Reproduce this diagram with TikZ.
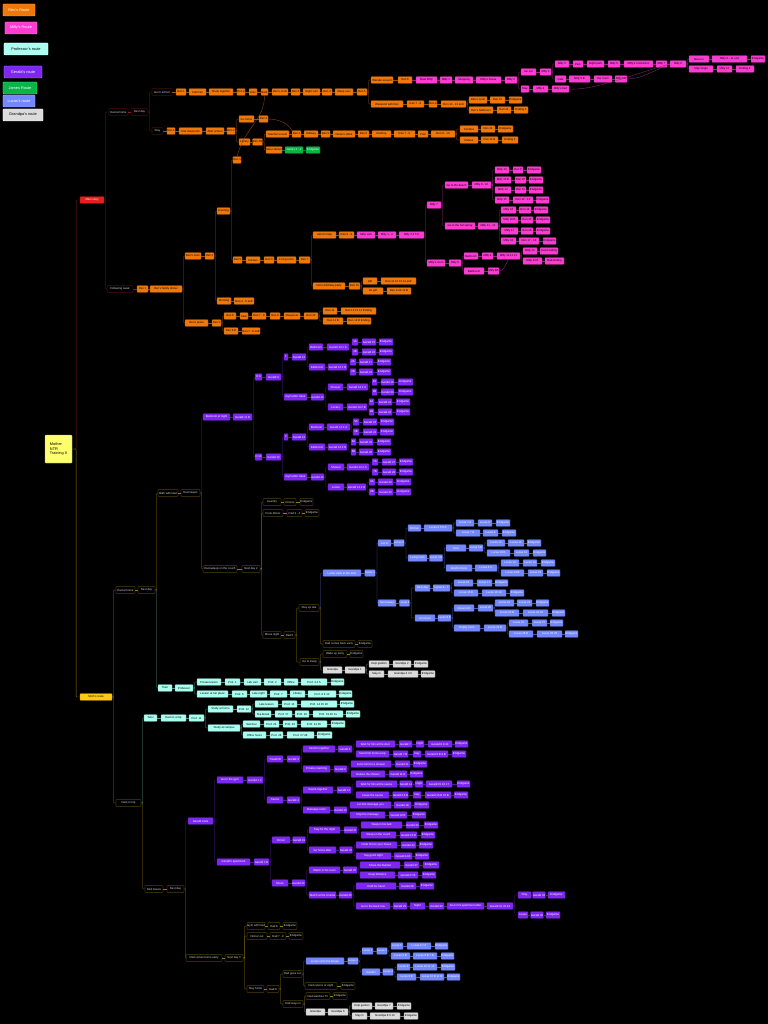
\documentclass[tikz,border=0pt]{standalone}
\usepackage{fontspec}
\setmainfont{Liberation Sans}
\usetikzlibrary{calc}
\definecolor{renorange}{RGB}{240,120,10}
\definecolor{millypink}{RGB}{255,60,210}
\definecolor{profcyan}{RGB}{170,255,240}
\definecolor{geraldpurple}{RGB}{125,40,240}
\definecolor{jamesgreen}{RGB}{10,180,70}
\definecolor{lucasblue}{RGB}{115,135,255}
\definecolor{grandgray}{RGB}{220,220,220}
\definecolor{mainred}{RGB}{230,30,30}
\definecolor{rootyellow}{RGB}{255,255,110}
\definecolor{goldnode}{RGB}{255,200,20}
\definecolor{darkred}{RGB}{130,30,30}
\definecolor{darkgold}{RGB}{150,120,20}
\definecolor{lnrenc}{RGB}{150,80,15}
\definecolor{lnpinkc}{RGB}{150,40,130}
\definecolor{lngerc}{RGB}{80,30,150}
\definecolor{lnlucc}{RGB}{80,90,170}
\definecolor{lnprofc}{RGB}{90,150,140}
\definecolor{lngrayc}{RGB}{130,130,130}
\definecolor{lngreenc}{RGB}{20,120,50}

% one row of boxes: name, y, box style, line style, list of left/right/text
\newcommand{\mmrow}[5]{%
  \foreach \mml/\mmr/\mmt [count=\mmi, remember=\mmi as \mmj (initially 0)] in {#5}{%
    \node[#3, minimum width={(\mmr-\mml)*0.5mm}] (#1-\mmi) at ({(\mml+\mmr)/2},#2) {\mmt};
    \ifnum\mmi>1 \draw[#4] (#1-\mmj.east) -- (#1-\mmi.west);\fi
  }%
}
% parent to children, over a trunk
\newcommand{\mmfork}[3]{%
  \foreach \mmc in {#3}{\draw[#1] (#2.east) -- ++(0.8mm,0) |- (\mmc.west);}%
}
\newcommand{\mmlink}[3]{\draw[#1] (#2.east) -- (#3.west);}

\begin{document}
\begin{tikzpicture}[x=0.5mm, y=-0.5mm,
  mm/.style={rounded corners=0.8pt, minimum height=3.3mm, inner sep=0.4pt, font=\fontsize{4}{4.4}\selectfont, line width=0.35pt},
  renbox/.style={mm, fill=renorange, draw=renorange!75!black, text=black},
  millybox/.style={mm, fill=millypink, draw=millypink!75!black, text=black},
  profbox/.style={mm, fill=profcyan, draw=profcyan!70!black, text=black},
  gerbox/.style={mm, fill=geraldpurple, draw=geraldpurple!75!black, text=white},
  jamesbox/.style={mm, fill=jamesgreen, draw=jamesgreen!75!black, text=white},
  lucbox/.style={mm, fill=lucasblue, draw=lucasblue!75!black, text=white},
  grandbox/.style={mm, fill=grandgray, draw=grandgray!70!black, text=black},
  darkredbox/.style={mm, fill=black, draw=darkred, text=white!85!black},
  darkgoldbox/.style={mm, fill=black, draw=darkgold, text=white!85!black},
  mainredbox/.style={mm, fill=mainred, draw=mainred!75!black, text=white},
  goldbox/.style={mm, fill=goldnode, draw=goldnode!75!black, text=black},
  legbox/.style={rounded corners=1pt, minimum height=6mm, inner sep=1pt, font=\fontsize{5.5}{6}\selectfont, line width=0.6pt},
  link/.style={line width=0.45pt, rounded corners=1pt},
  lred/.style={link, draw=darkred},
  lgold/.style={link, draw=darkgold},
  lren/.style={link, draw=lnrenc},
  lpink/.style={link, draw=lnpinkc},
  lger/.style={link, draw=lngerc},
  lluc/.style={link, draw=lnlucc},
  lprof/.style={link, draw=lnprofc},
  lgray/.style={link, draw=lngrayc},
  lgreen/.style={link, draw=lngreenc}
]
\fill[black] (0,0) rectangle (768,1024);
\useasboundingbox (0,0) rectangle (768,1024);

% legend
\node[legbox, fill=renorange, draw=renorange!60!white, text=white, minimum width=16mm] (legren) at (19,10) {Ren's Route};
\node[legbox, fill=millypink, draw=millypink!60!white, text=white, minimum width=16mm] (legmilly) at (21,28) {Milly's Route};
\node[legbox, fill=profcyan, draw=white, text=black, minimum width=22mm] (legprof) at (26,49) {Professor's route};
\node[legbox, fill=geraldpurple, draw=geraldpurple!60!white, text=white, minimum width=19mm] (legger) at (23,72) {Gerald's route};
\node[legbox, fill=jamesgreen, draw=jamesgreen!60!white, text=white, minimum width=17mm] (legjames) at (20,88) {James Route};
\node[legbox, fill=lucasblue, draw=lucasblue!60!white, text=white, minimum width=16mm] (legluc) at (19,101) {Lucas's route};
\node[legbox, fill=grandgray, draw=white, text=black, minimum width=20mm] (leggrand) at (23,115) {Grandpa's route};

% root
\node[rounded corners=1pt, fill=rootyellow, draw=rootyellow!70!black, minimum width=13.5mm, minimum height=14mm, align=left, font=\fontsize{5.5}{6.5}\selectfont, inner sep=1.5pt] (root) at (58.5,449) {Mother\\NTR\\Training II};

% ---- Ren
\mmrow{ren}{200}{mainredbox}{lred}{80/104/Main story}
\mmrow{a1}{112}{darkredbox}{lred}{109/128/Dad at home, 131/148/Next day}
\mmrow{b1}{92}{darkredbox}{lred}{152/172/Go to school}
\mmrow{b2}{131}{darkredbox}{lred}{152/163/Stay}
\mmrow{c1}{92}{renbox}{lren}{176/186/Ren 1, 189/206/Call Ren, 209/233/Study together, 237/245/Ren 2, 249/257/Kiss, 261/268/Bath, 272/288/Ren's room, 291/300/Ren 3, 303/320/Night visit, 322/332/Ren 4, 335/353/Sleep over, 357/367/Ren 5}
\mmrow{d1}{80}{renbox}{lren}{371/393/Wander around, 398/412/Ren 6}
\mmrow{d1p}{80}{millybox}{lpink}{416/437/Meet Milly, 440/452/Milly 1, 455/473/Shopping, 476/501/Milly's house, 505/517/Milly 2}
\mmrow{e1}{72}{millybox}{lpink}{521/536/Go out, 540/551/Milly 3}
\mmrow{e2}{89}{millybox}{lpink}{521/529/Stay, 533/548/Milly 4, 552/569/Milly's bed}
\mmrow{f1}{64}{millybox}{lpink}{555/569/Milly 5, 573/583/Park, 587/604/Night park, 608/620/Milly 6, 624/653/Milly's confession, 656/667/Milly 7, 670/686/Milly 8}
\mmrow{f2}{79}{millybox}{lpink}{555/566/Cafe, 569/590/Milly 5 B, 594/612/Her room, 615/627/Milly 6B}
\mmrow{g1}{59}{millybox}{lpink}{689/709/Move in, 712/747/Milly 9 - 11 end, 751/765/Endgame}
\mmrow{g2}{69}{millybox}{lpink}{689/713/Stay single, 717/732/Milly 12, 736/754/Ending 2}
\mmrow{d2}{104}{renbox}{lren}{371/403/Weekend with Ren, 407/424/Ren 7 - 8, 429/437/Ren 9, 441/466/Ren 10 - 12 end}
\mmrow{h1}{100}{renbox}{lren}{469/487/Ren's room, 490/505/Ren 13, 509/522/Endgame}
\mmrow{h2}{110}{renbox}{lren}{469/493/Ren's bathroom, 497/511/Ren 14, 514/528/Ending 2}
\mmrow{i1}{131}{renbox}{lren}{167/175/Ren 1, 179/202/Visit classroom, 206/224/After school, 227/235/Ren 2}
\mmrow{j1}{119}{renbox}{lren}{239/254/Go home, 259/268/Ren 3}
\mmrow{j2}{142}{renbox}{lren}{239/250/Library, 253/262/Ren 3B}
\mmrow{k1}{134}{renbox}{lren}{266/289/Teacher's room, 292/301/Ren 4, 304/318/Hallway, 321/330/Ren 5, 333/355/Nurse's office, 358/369/Ren 6, 372/391/Rooftop, 394/415/Ren 7 - 8, 418/428/Pool, 431/455/Ren 9 - 10}
\mmrow{l1}{129}{renbox}{lren}{460/478/Confess, 481/495/Ren 11, 498/513/Endgame}
\mmrow{l2}{140}{renbox}{lren}{460/478/Refuse, 481/498/Ren 11 B, 502/518/Ending 2}
\mmrow{k2}{150}{renbox}{lren}{266/282/Meet James}
\mmrow{k2g}{150}{jamesbox}{lgreen}{285/303/James 1 - 2, 306/320/Endgame}
\mmrow{m0}{160}{renbox}{lren}{233/241/Ren 4}
\mmrow{a2}{289}{darkredbox}{lred}{107/133/Following week}
\mmrow{a2o}{289}{renbox}{lren}{137/148/Ren 1, 150/182/Ren's family dinner}
\mmrow{n1}{256}{renbox}{lren}{185/201/Ren's mom, 205/214/Ren 2}
\mmrow{n2}{323}{renbox}{lren}{185/208/Ren's place, 212/221/Ren 3}
\mmrow{o1}{211}{renbox}{lren}{217/230/Evening}
\mmrow{o2}{301}{renbox}{lren}{217/231/Morning, 234/254/Ren 4 - 5 end}
\mmrow{p1}{260}{renbox}{lren}{233/242/Ren 5, 246/260/Kitchen, 264/274/Ren 6, 277/296/Living room, 299/310/Ren 7}
\mmrow{q1}{235}{renbox}{lren}{313/336/Ask for help, 339/354/Ren 8 - 9}
\mmrow{q1p}{235}{millybox}{lpink}{357/375/Milly visit, 378/396/Milly 1 - 2, 399/424/Milly 3 4 5 6}
\mmrow{r1}{205}{millybox}{lpink}{427/441/Milly 7}
\mmrow{r2}{263}{millybox}{lpink}{427/445/Milly's room, 449/461/Milly 8}
\mmrow{s1}{185}{millybox}{lpink}{445/468/Go to the beach, 472/491/Milly 9 - 10}
\mmrow{s2}{226}{millybox}{lpink}{445/475/Go to the hot spring, 478/498/Milly 11 - 12}
\mmrow{t1}{170}{millybox}{lpink}{495/509/Milly 13, 513/523/Ren 9, 527/541/Endgame}
\mmrow{t2}{180}{millybox}{lpink}{495/511/Milly 13 B, 515/526/Ren 10, 529/543/Endgame}
\mmrow{t3}{190}{millybox}{lpink}{495/511/Milly 14, 515/526/Ren 11, 529/543/Endgame}
\mmrow{t4}{200}{millybox}{lpink}{495/509/Milly 15, 513/533/Ren 12 - 13, 536/549/Endgame}
\mmrow{u1}{210}{millybox}{lpink}{501/516/Milly 16, 519/531/Ren 14, 534/548/Endgame}
\mmrow{u2}{220}{millybox}{lpink}{501/518/Milly 16 B, 521/533/Ren 15, 536/550/Endgame}
\mmrow{u3}{231}{millybox}{lpink}{501/518/Milly 17, 521/533/Ren 16, 536/550/Endgame}
\mmrow{u4}{241}{millybox}{lpink}{501/516/Milly 18, 519/539/Ren 17 - 18, 543/556/Endgame}
\mmrow{v1}{256}{millybox}{lpink}{464/478/Bedroom, 482/493/Milly 9, 497/520/Milly 10 11 12}
\mmrow{v2}{271}{millybox}{lpink}{464/484/Bathroom, 488/499/Milly 9B}
\mmrow{w1}{251}{millybox}{lpink}{523/537/Milly 13, 540/558/Good ending}
\mmrow{w2}{261}{millybox}{lpink}{523/542/Milly 13 B, 545/564/Bad ending}
\mmrow{q2}{286}{renbox}{lren}{313/345/Ren's birthday party, 349/360/Ren 10}
\mmrow{x1}{281}{renbox}{lren}{363/377/Gift, 381/416/Ren 11 12 13 14 end}
\mmrow{x2}{291}{renbox}{lren}{363/383/No gift, 387/411/Ren 11 B 12 B}
\mmrow{y1}{316}{renbox}{lren}{224/236/Ren 6, 240/248/Park, 252/266/Ren 7 - 8, 270/280/Ren 9, 284/300/Sleepover, 304/318/Ren 10}
\mmrow{y2}{331}{renbox}{lren}{224/238/Ren 6 B, 242/260/Ren 7 - 8 end}
\mmrow{z1}{311}{renbox}{lren}{323/337/Ren 11, 341/376/Ren 12 13 14 Ending}
\mmrow{z2}{321}{renbox}{lren}{323/343/Ren 11 B, 347/371/Ren 12 B Ending}

\draw[lred] (root.east) -- ++(2mm,0) |- (ren-1.west);
\mmfork{lred}{ren-1}{a1-1,a2-1}
\mmfork{lred}{a1-2}{b1-1,b2-1}
\mmlink{lren}{b1-1}{c1-1}
\mmlink{lren}{b2-1}{i1-1}
\mmfork{lren}{c1-12}{d1-1,d2-1}
\mmlink{lpink}{d1-2}{d1p-1}
\mmfork{lpink}{d1p-5}{e1-1,e2-1}
\mmfork{lpink}{e1-2}{f1-1,f2-1}
\mmfork{lpink}{f1-7}{g1-1,g2-1}
\draw[lpink] (e2-3.east) .. controls +(25,2) and +(-30,8) .. (f1-7.west);
\draw[lpink] (f2-4.east) .. controls +(15,0) and +(-15,6) .. (f1-7.west);
\mmfork{lren}{d2-4}{h1-1,h2-1}
\mmfork{lren}{i1-4}{j1-1,j2-1}
\mmfork{lren}{j2-2}{k1-1,k2-1}
\mmfork{lren}{k1-10}{l1-1,l2-1}
\mmlink{lgreen}{k2-1}{k2g-1}
\draw[lren] (j1-2.east) .. controls +(12,0) and +(-3,-6) .. (k1-2.north west);
\draw[lren] (c1-6.south) .. controls +(0,25) and +(8,-30) .. (m0-1.north);
\mmlink{lred}{a2-1}{a2o-1}
\mmfork{lren}{a2o-2}{n1-1,n2-1}
\mmfork{lren}{n1-2}{o1-1,o2-1}
\mmfork{lren}{o1-1}{m0-1,p1-1}
\mmfork{lren}{p1-5}{q1-1,q2-1}
\mmlink{lpink}{q1-2}{q1p-1}
\mmfork{lpink}{q1p-3}{r1-1,r2-1}
\mmfork{lpink}{r1-1}{s1-1,s2-1}
\mmfork{lpink}{s1-2}{t1-1,t2-1,t3-1,t4-1}
\mmfork{lpink}{s2-2}{u1-1,u2-1,u3-1,u4-1}
\mmfork{lpink}{r2-2}{v1-1,v2-1}
\mmfork{lpink}{v1-3}{w1-1,w2-1}
\draw[lpink] (v2-2.east) .. controls +(5,0) and +(-3,5) .. (v1-3.south);
\mmfork{lren}{q2-2}{x1-1,x2-1}
\mmfork{lren}{n2-2}{y1-1,y2-1}
\mmfork{lren}{y1-6}{z1-1,z2-1}

% ---- lower half
\mmrow{gold}{697}{goldbox}{lgold}{80/112/Mom's route}
\mmrow{P1}{590}{darkgoldbox}{lgold}{116/135/Dad at home, 138/155/Next day}
\mmrow{P2}{803}{darkgoldbox}{lgold}{116/141/Dad on trip}
\mmrow{Q1}{493}{darkgoldbox}{lgold}{158/178/Bath with Dad, 181/200/Dad sleeps}
\mmrow{Q2}{688}{profbox}{lprof}{158/172/Tutor, 175/193/Professor}

% Gerald, upper tree
\mmrow{G0}{417}{gerbox}{lger}{203/230/Bedroom at night, 233/252/Gerald 11 B}
\mmrow{G1}{377}{gerbox}{lger}{255/262/D 9, 266/281/Gerald 9}
\mmrow{G2}{457}{gerbox}{lger}{255/262/D 10, 266/281/Gerald 10}
\mmrow{G11}{357}{gerbox}{lger}{284/288/1, 292/306/Gerald 12}
\mmrow{G12}{397}{gerbox}{lger}{284/307/Gym after class, 311/324/Gerald 13}
\mmrow{G111}{347}{gerbox}{lger}{309/323/Bedroom, 327/349/Gerald 14 1 A}
\mmrow{G112}{367}{gerbox}{lger}{309/325/Bathroom, 328/347/Gerald 14 1 B}
\mmrow{G111a}{342}{gerbox}{lger}{352/358/1A, 362/376/Gerald 15, 379/393/Endgame}
\mmrow{G111b}{352}{gerbox}{lger}{352/358/1B, 362/376/Gerald 16, 379/393/Endgame}
\mmrow{G112a}{362}{gerbox}{lger}{350/356/2A, 359/373/Gerald 17, 377/391/Endgame}
\mmrow{G112b}{372}{gerbox}{lger}{350/356/2B, 359/373/Gerald 18, 377/391/Endgame}
\mmrow{G121}{387}{gerbox}{lger}{328/343/Shower, 347/368/Gerald 14 2 A}
\mmrow{G122}{407}{gerbox}{lger}{328/343/Locker, 347/367/Gerald 14 2 B}
\mmrow{G121a}{382}{gerbox}{lger}{372/377/3A, 381/394/Gerald 19, 398/413/Endgame}
\mmrow{G121b}{392}{gerbox}{lger}{372/377/3B, 381/394/Gerald 20, 398/413/Endgame}
\mmrow{G122a}{402}{gerbox}{lger}{369/374/4A, 378/392/Gerald 21, 396/410/Endgame}
\mmrow{G122b}{412}{gerbox}{lger}{369/374/4B, 378/392/Gerald 22, 396/410/Endgame}
\mmrow{G21}{437}{gerbox}{lger}{284/288/2, 292/306/Gerald 12}
\mmrow{G22}{477}{gerbox}{lger}{284/307/Gym after class, 311/324/Gerald 13}
\mmrow{G211}{427}{gerbox}{lger}{309/324/Bedroom, 327/350/Gerald 14 3 A}
\mmrow{G212}{447}{gerbox}{lger}{309/325/Bathroom, 328/347/Gerald 14 3 B}
\mmrow{G211a}{422}{gerbox}{lger}{353/359/5A, 363/377/Gerald 23, 380/394/Endgame}
\mmrow{G211b}{432}{gerbox}{lger}{353/359/5B, 363/377/Gerald 24, 380/394/Endgame}
\mmrow{G212a}{442}{gerbox}{lger}{351/356/6A, 359/373/Gerald 25, 377/391/Endgame}
\mmrow{G212b}{452}{gerbox}{lger}{351/356/6B, 359/373/Gerald 26, 377/391/Endgame}
\mmrow{G221}{467}{gerbox}{lger}{328/344/Shower, 347/369/Gerald 14 4 A}
\mmrow{G222}{487}{gerbox}{lger}{328/344/Locker, 347/366/Gerald 14 4 B}
\mmrow{G221a}{462}{gerbox}{lger}{372/378/7A, 382/396/Gerald 27, 399/413/Endgame}
\mmrow{G221b}{472}{gerbox}{lger}{372/378/7B, 382/396/Gerald 28, 399/413/Endgame}
\mmrow{G222a}{482}{gerbox}{lger}{369/375/8A, 378/393/Gerald 29, 396/411/Endgame}
\mmrow{G222b}{492}{gerbox}{lger}{369/375/8B, 378/393/Gerald 30, 396/411/Endgame}

% Dad and Lucas
\mmrow{R1}{569}{darkgoldbox}{lgold}{203/237/Dad asleep on the couch, 242/260/Next day 2}
\mmrow{S1}{502}{darkgoldbox}{lgold}{263/281/Laundry, 284/296/Chores, 300/313/Endgame}
\mmrow{S2}{513}{darkgoldbox}{lgold}{263/283/Cook dinner, 287/302/Dad 3 - 4, 305/319/Endgame}
\mmrow{S3}{635}{darkgoldbox}{lgold}{263/281/Movie night, 284/295/Dad 5}
\mmrow{T1}{608}{darkgoldbox}{lgold}{299/319/Stay up late}
\mmrow{T2}{662}{darkgoldbox}{lgold}{300/319/Go to sleep}
\mmrow{L0}{573}{lucbox}{lluc}{323/361/Lucas visits at the door, 365/375/Lucas 1}
\mmrow{U1}{644}{darkgoldbox}{lgold}{323/355/Dad comes back early, 358/372/Endgame}
\mmrow{L1}{543}{lucbox}{lluc}{378/391/Let in, 394/404/Lucas 2}
\mmrow{L2}{603}{lucbox}{lluc}{378/396/Send away, 400/409/Lucas 3}
\mmrow{L11}{528}{lucbox}{lluc}{408/421/Kitchen, 424/452/Lucas 4 5 6 A}
\mmrow{L12}{558}{lucbox}{lluc}{408/427/Living room, 430/442/Lucas 4 B}
\mmrow{L11a}{523}{lucbox}{lluc}{456/474/Lucas 7 A, 478/492/Lucas 8, 496/510/Endgame}
\mmrow{L11b}{533}{lucbox}{lluc}{456/480/Lucas 7 B, 483/498/Lucas 9, 502/516/Endgame}
\mmrow{L121}{548}{lucbox}{lluc}{446/466/Sofa, 469/483/Lucas 5 B}
\mmrow{L122}{568}{lucbox}{lluc}{446/472/Watch movie, 475/497/Lucas 5 C}
\mmrow{L121a}{543}{lucbox}{lluc}{487/505/Lucas 10, 508/524/Lucas 11, 527/541/Endgame}
\mmrow{L121b}{553}{lucbox}{lluc}{487/510/Lucas 10 B, 514/529/Lucas 12, 533/546/Endgame}
\mmrow{L122a}{563}{lucbox}{lluc}{501/519/Lucas 13, 523/537/Lucas 14, 541/555/Endgame}
\mmrow{L122b}{573}{lucbox}{lluc}{501/524/Lucas 13 B, 528/543/Lucas 15, 547/560/Endgame}
\mmrow{L21}{588}{lucbox}{lluc}{415/430/Next day, 433/450/Lucas 6 - 7}
\mmrow{L22}{618}{lucbox}{lluc}{415/435/At school, 438/451/Lucas 8 B}
\mmrow{L21a}{583}{lucbox}{lluc}{454/473/Lucas 16, 477/492/Lucas 17, 495/508/Endgame}
\mmrow{L21b}{593}{lucbox}{lluc}{454/478/Lucas 16 B, 482/506/Lucas 18 19, 510/524/Endgame}
\mmrow{L221}{608}{lucbox}{lluc}{454/474/Classroom, 478/493/Lucas 20}
\mmrow{L222}{628}{lucbox}{lluc}{454/480/Empty room, 484/506/Lucas 21 B}
\mmrow{L221a}{603}{lucbox}{lluc}{495/514/Lucas 22, 517/532/Lucas 23, 536/549/Endgame}
\mmrow{L221b}{613}{lucbox}{lluc}{495/519/Lucas 22 B, 523/548/Lucas 24 25, 552/565/Endgame}
\mmrow{L222a}{623}{lucbox}{lluc}{509/528/Lucas 26, 532/547/Lucas 27, 550/563/Endgame}
\mmrow{L222b}{634}{lucbox}{lluc}{509/533/Lucas 26 B, 537/562/Lucas 28 29, 565/578/Endgame}
\mmrow{U2}{654}{darkgoldbox}{lgold}{323/347/Wake up early, 350/363/Endgame}
\mmrow{U3}{670}{grandbox}{lgray}{323/342/Grandpa, 345/365/Grandpa 1}
\mmrow{U3a}{664}{grandbox}{lgray}{369/389/Help garden, 393/411/Grandpa 2, 414/428/Endgame}
\mmrow{U3b}{674}{grandbox}{lgray}{369/384/Stay in, 388/418/Grandpa 3 4 5, 421/435/Endgame}

% Professor
\mmrow{C1}{682}{profbox}{lprof}{197/221/Private lesson, 225/240/Prof. 1, 244/261/Lab visit, 264/281/Prof. 2, 284/298/Office, 301/327/Prof. 3 4 5, 331/344/Endgame}
\mmrow{C2}{694}{profbox}{lprof}{197/228/Lesson at her place, 232/247/Prof. 6, 250/267/Late night, 270/287/Prof. 7, 290/305/Library, 308/336/Prof. 8 9 10, 339/352/Endgame}
\mmrow{D0}{718}{profbox}{lprof}{144/157/Tutor, 161/186/Dad on a trip, 189/204/Prof. 11}
\mmrow{D1}{709}{profbox}{lprof}{208/233/Study at home, 237/251/Prof. 12}
\mmrow{D2}{728}{profbox}{lprof}{208/240/Study at campus}
\mmrow{D1a}{704}{profbox}{lprof}{255/278/Late lesson, 282/297/Prof. 13, 301/337/Prof. 14 15 16, 340/354/Endgame}
\mmrow{D1b}{714}{profbox}{lprof}{255/271/Tea break, 275/292/Prof. 17, 295/309/Prof. 18, 313/343/Prof. 19 20 21, 346/360/Endgame}
\mmrow{D2a}{724}{profbox}{lprof}{243/260/Seminar, 264/279/Prof. 22, 283/297/Prof. 23, 301/327/Prof. 24 25, 331/345/Endgame}
\mmrow{D2b}{735}{profbox}{lprof}{243/266/Office hours, 270/283/Prof. 26, 287/314/Prof. 27 28, 317/332/Endgame}

% Gerald, lower tree
\mmrow{E0}{889}{darkgoldbox}{lgold}{145/163/Dad leaves, 167/184/Next day}
\mmrow{H0}{821}{gerbox}{lger}{188/213/Gerald visits}
\mmrow{H1}{780}{gerbox}{lger}{217/243/Go to the gym, 247/263/Gerald 1 2}
\mmrow{H2}{862}{gerbox}{lger}{217/250/Gerald's apartment, 254/269/Gerald 1 B}
\mmrow{H11}{759}{gerbox}{lger}{267/283/Treadmill, 287/300/Gerald 3}
\mmrow{H12}{800}{gerbox}{lger}{267/283/Sauna, 287/300/Gerald 4}
\mmrow{H111}{749}{gerbox}{lger}{303/335/Stretch together, 338/352/Gerald 5}
\mmrow{H112}{769}{gerbox}{lger}{303/330/Private coaching, 334/347/Gerald 6}
\mmrow{H111a}{744}{gerbox}{lger}{356/395/Wait for him at the door, 399/412/Gerald 7, 416/424/Night, 428/452/Gerald 8 9 10, 455/468/Endgame}
\mmrow{H111b}{754}{gerbox}{lger}{356/389/Send him home early, 393/408/Gerald 7 B, 413/421/Day, 425/448/Gerald 8 B 9 B, 452/466/Endgame}
\mmrow{H112a}{764}{gerbox}{lger}{351/391/Invite him for a shower, 395/410/Gerald 11, 413/427/Endgame}
\mmrow{H112b}{774}{gerbox}{lger}{351/385/Refuse the shower, 389/407/Gerald 11 B, 410/423/Endgame}
\mmrow{H121}{790}{gerbox}{lger}{303/333/Sauna together, 337/351/Gerald 12}
\mmrow{H122}{810}{gerbox}{lger}{303/330/Massage room, 334/347/Gerald 13}
\mmrow{H121a}{784}{gerbox}{lger}{356/397/Wait for him at the sauna, 400/412/Gerald 14, 415/423/Night, 426/452/Gerald 15 16 17, 457/470/Endgame}
\mmrow{H121b}{795}{gerbox}{lger}{356/389/Leave the sauna, 393/408/Gerald 14 B, 413/421/Day, 425/451/Gerald 15 B 16 B, 454/468/Endgame}
\mmrow{H122a}{805}{gerbox}{lger}{350/391/Let him massage you, 394/411/Gerald 18, 414/429/Endgame}
\mmrow{H122b}{815}{gerbox}{lger}{350/385/Stop the massage, 389/407/Gerald 18 B, 412/426/Endgame}
\mmrow{H21}{840}{gerbox}{lger}{272/290/Dinner, 293/305/Gerald 19}
\mmrow{H22}{883}{gerbox}{lger}{272/288/Movie, 292/305/Gerald 20}
\mmrow{H211}{830}{gerbox}{lger}{309/340/Stay for the night, 344/357/Gerald 21}
\mmrow{H212}{850}{gerbox}{lger}{309/336/Go home after, 340/352/Gerald 22}
\mmrow{H211a}{825}{gerbox}{lger}{361/402/Sleep in his bed, 406/419/Gerald 23, 424/438/Endgame}
\mmrow{H211b}{835}{gerbox}{lger}{361/396/Sleep on the couch, 400/417/Gerald 23 B, 421/435/Endgame}
\mmrow{H212a}{845}{gerbox}{lger}{356/397/Invite him to your house, 401/416/Gerald 24, 419/433/Endgame}
\mmrow{H212b}{856}{gerbox}{lger}{356/391/Say good night, 394/412/Gerald 24 B, 415/429/Endgame}
\mmrow{H221}{870}{gerbox}{lger}{309/340/Watch in his room, 343/357/Gerald 25}
\mmrow{H222}{895}{gerbox}{lger}{309/336/Watch at the cinema, 339/352/Gerald 26}
\mmrow{H221a}{865}{gerbox}{lger}{360/400/Share the blanket, 404/419/Gerald 27, 423/439/Endgame}
\mmrow{H221b}{875}{gerbox}{lger}{360/395/Keep distance, 398/418/Gerald 27 B, 422/436/Endgame}
\mmrow{H222a}{886}{gerbox}{lger}{356/396/Hold his hand, 399/416/Gerald 28, 420/434/Endgame}
\mmrow{H222b}{906}{gerbox}{lger}{356/390/Go to the back row, 393/407/Gerald 29, 410/425/Night, 429/444/Gerald 30, 447/484/Go to his apartment after, 487/513/Gerald 31 32 33}
\mmrow{H3a}{895}{gerbox}{lger}{518/531/Stay, 533/545/Gerald 34, 548/565/Endgame}
\mmrow{H3b}{915}{gerbox}{lger}{518/528/Leave, 531/543/Gerald 35, 546/560/Endgame}

% Dad, Lucas, Grandpa at the bottom
\mmrow{F0}{958}{darkgoldbox}{lgold}{186/222/Dad comes home early, 225/243/Next day 3}
\mmrow{F1}{926}{darkgoldbox}{lgold}{247/265/Gym with Dad, 268/280/Dad 6, 283/297/Endgame}
\mmrow{F2}{936}{darkgoldbox}{lgold}{247/267/Dinner out, 270/286/Dad 7 - 8, 289/303/Endgame}
\mmrow{F3}{989}{darkgoldbox}{lgold}{247/264/Stay home, 267/279/Dad 9}
\mmrow{F31}{974}{darkgoldbox}{lgold}{283/302/Dad goes out}
\mmrow{F32}{1004}{darkgoldbox}{lgold}{283/303/Dad stays in}
\mmrow{B0}{961}{lucbox}{lluc}{306/344/Lucas visits the house, 348/358/Lucas 1}
\mmrow{K1}{986}{darkgoldbox}{lgold}{305/337/Dad returns at night, 341/355/Endgame}
\mmrow{B1}{951}{lucbox}{lluc}{362/373/Lucas 2, 377/387/Lucas 3}
\mmrow{B2}{972}{lucbox}{lluc}{362/380/Garden, 383/393/Lucas 4}
\mmrow{B1a}{946}{lucbox}{lluc}{391/403/Lucas 5, 407/431/Lucas 6 7 8, 435/448/Endgame}
\mmrow{B1b}{956}{lucbox}{lluc}{391/410/Lucas 5 B, 413/437/Lucas 6 B 7 B, 441/454/Endgame}
\mmrow{B2a}{967}{lucbox}{lluc}{397/410/Lucas 9, 413/437/Lucas 10 11 12, 441/455/Endgame}
\mmrow{B2b}{977}{lucbox}{lluc}{397/416/Lucas 9 B, 420/444/Lucas 10 B 11 B, 447/460/Endgame}
\mmrow{K2}{996}{darkgoldbox}{lgold}{306/330/Dad watches TV, 333/347/Endgame}
\mmrow{K3}{1012}{grandbox}{lgray}{306/325/Grandpa, 328/348/Grandpa 6}
\mmrow{K3a}{1006}{grandbox}{lgray}{352/372/Help garden, 375/393/Grandpa 7, 397/411/Endgame}
\mmrow{K3b}{1016}{grandbox}{lgray}{352/367/Stay in, 370/400/Grandpa 8 9 10, 404/418/Endgame}

\draw[lgold] (root.east) -- ++(2mm,0) |- (gold-1.west);
\mmfork{lgold}{gold-1}{P1-1,P2-1}
\mmfork{lgold}{P1-2}{Q1-1}
\mmfork{lprof}{P1-2}{Q2-1}
\mmfork{lger}{Q1-2}{G0-1}
\mmfork{lgold}{Q1-2}{R1-1}
\mmfork{lger}{G0-2}{G1-1,G2-1}
\mmfork{lger}{G1-2}{G11-1,G12-1}
\mmfork{lger}{G11-2}{G111-1,G112-1}
\mmfork{lger}{G111-2}{G111a-1,G111b-1}
\mmfork{lger}{G112-2}{G112a-1,G112b-1}
\mmfork{lger}{G12-2}{G121-1,G122-1}
\mmfork{lger}{G121-2}{G121a-1,G121b-1}
\mmfork{lger}{G122-2}{G122a-1,G122b-1}
\mmfork{lger}{G2-2}{G21-1,G22-1}
\mmfork{lger}{G21-2}{G211-1,G212-1}
\mmfork{lger}{G211-2}{G211a-1,G211b-1}
\mmfork{lger}{G212-2}{G212a-1,G212b-1}
\mmfork{lger}{G22-2}{G221-1,G222-1}
\mmfork{lger}{G221-2}{G221a-1,G221b-1}
\mmfork{lger}{G222-2}{G222a-1,G222b-1}
\mmfork{lgold}{R1-2}{S1-1,S2-1,S3-1}
\mmfork{lgold}{S3-2}{T1-1,T2-1}
\mmfork{lluc}{T1-1}{L0-1}
\mmfork{lgold}{T1-1}{U1-1}
\mmfork{lluc}{L0-2}{L1-1,L2-1}
\mmfork{lluc}{L1-2}{L11-1,L12-1}
\mmfork{lluc}{L11-2}{L11a-1,L11b-1}
\mmfork{lluc}{L12-2}{L121-1,L122-1}
\mmfork{lluc}{L121-2}{L121a-1,L121b-1}
\mmfork{lluc}{L122-2}{L122a-1,L122b-1}
\mmfork{lluc}{L2-2}{L21-1,L22-1}
\mmfork{lluc}{L21-2}{L21a-1,L21b-1}
\mmfork{lluc}{L22-2}{L221-1,L222-1}
\mmfork{lluc}{L221-2}{L221a-1,L221b-1}
\mmfork{lluc}{L222-2}{L222a-1,L222b-1}
\mmfork{lgold}{T2-1}{U2-1}
\mmfork{lgray}{T2-1}{U3-1}
\mmfork{lgray}{U3-2}{U3a-1,U3b-1}
\mmfork{lprof}{Q2-2}{C1-1,C2-1}
\mmfork{lprof}{P2-1}{D0-1}
\mmfork{lgold}{P2-1}{E0-1}
\mmfork{lprof}{D0-3}{D1-1,D2-1}
\mmfork{lprof}{D1-2}{D1a-1,D1b-1}
\mmfork{lprof}{D2-1}{D2a-1,D2b-1}
\mmfork{lger}{E0-2}{H0-1}
\mmfork{lgold}{E0-2}{F0-1}
\mmfork{lger}{H0-1}{H1-1,H2-1}
\mmfork{lger}{H1-2}{H11-1,H12-1}
\mmfork{lger}{H11-2}{H111-1,H112-1}
\mmfork{lger}{H111-2}{H111a-1,H111b-1}
\mmfork{lger}{H112-2}{H112a-1,H112b-1}
\mmfork{lger}{H12-2}{H121-1,H122-1}
\mmfork{lger}{H121-2}{H121a-1,H121b-1}
\mmfork{lger}{H122-2}{H122a-1,H122b-1}
\mmfork{lger}{H2-2}{H21-1,H22-1}
\mmfork{lger}{H21-2}{H211-1,H212-1}
\mmfork{lger}{H211-2}{H211a-1,H211b-1}
\mmfork{lger}{H212-2}{H212a-1,H212b-1}
\mmfork{lger}{H22-2}{H221-1,H222-1}
\mmfork{lger}{H221-2}{H221a-1,H221b-1}
\mmfork{lger}{H222-2}{H222a-1,H222b-1}
\mmfork{lger}{H222b-6}{H3a-1,H3b-1}
\mmfork{lgold}{F0-2}{F1-1,F2-1,F3-1}
\mmfork{lgold}{F3-2}{F31-1,F32-1}
\mmfork{lluc}{F31-1}{B0-1}
\mmfork{lgold}{F31-1}{K1-1}
\mmfork{lluc}{B0-2}{B1-1,B2-1}
\mmfork{lluc}{B1-2}{B1a-1,B1b-1}
\mmfork{lluc}{B2-2}{B2a-1,B2b-1}
\mmfork{lgold}{F32-1}{K2-1}
\mmfork{lgray}{F32-1}{K3-1}
\mmfork{lgray}{K3-2}{K3a-1,K3b-1}
\end{tikzpicture}
\end{document}
